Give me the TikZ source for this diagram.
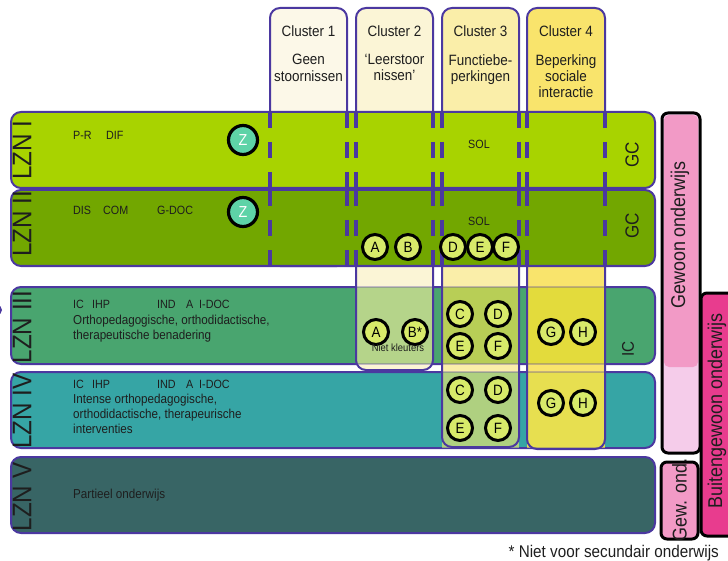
\documentclass[tikz,border=0pt]{standalone}
\usepackage{fontspec}
\setmainfont{Liberation Sans}[FakeStretch=0.9]
\usepackage{xcolor}
\usepackage{tikz}

\definecolor{rand}{HTML}{4B38A0}
\definecolor{lzna}{HTML}{A8D300}
\definecolor{lznb}{HTML}{72A700}
\definecolor{lznc}{HTML}{49A56F}
\definecolor{lznd}{HTML}{36A5A5}
\definecolor{lzne}{HTML}{386565}
\definecolor{cla}{HTML}{FCF8E8}
\definecolor{clb}{HTML}{FBF5D6}
\definecolor{clc}{HTML}{FAEEA9}
\definecolor{cld}{HTML}{F9E46C}
\definecolor{ovbc}{HTML}{B5D48A}
\definecolor{ovcc}{HTML}{B8CE56}
\definecolor{ovcd}{HTML}{AFD080}
\definecolor{ovdc}{HTML}{E3DB3C}
\definecolor{ovdd}{HTML}{E7DF50}
\definecolor{bol}{HTML}{D8EA6A}
\definecolor{zbol}{HTML}{5ED3A7}
\definecolor{roze}{HTML}{F29AC6}
\definecolor{lichtroze}{HTML}{F5CCEA}
\definecolor{magenta}{HTML}{E83C8E}
\definecolor{inkt}{HTML}{1E1E1E}

\tikzset{
	rij/.style={draw=rand, line width=2bp, rounded corners=10bp},
	kolom/.style={draw=rand, line width=2bp, rounded corners=10bp},
	streep/.style={rand, line width=3.5bp, dash pattern=on 16bp off 14bp},
	letter/.style={circle, draw=black, line width=3bp, fill=bol, minimum size=25bp, inner sep=0pt, font=\fontsize{15}{15}\selectfont},
	zletter/.style={circle, draw=black, line width=3.2bp, fill=zbol, text=white, minimum size=29bp, inner sep=0pt, font=\fontsize{16}{16}\selectfont},
	kop/.style={anchor=base, inner sep=0pt, text=inkt, font=\fontsize{15}{17}\selectfont},
	koptekst/.style={anchor=north, inner sep=0pt, align=center, text=inkt, font=\fontsize{15}{16.5}\selectfont},
	rijlabel/.style={rotate=90, inner sep=0pt, text=inkt, font=\fontsize{27}{27}\selectfont},
	code/.style={anchor=base west, inner sep=0pt, text=inkt, font=\fontsize{12}{12}\selectfont},
	uitleg/.style={anchor=north west, inner sep=0pt, align=left, text=inkt, font=\fontsize{13}{15.4}\selectfont},
	kader/.style={draw=black, line width=3bp, rounded corners=6bp},
	zijtekst/.style={rotate=90, inner sep=0pt, text=inkt, font=\fontsize{20}{20}\selectfont}
}

\begin{document}
\begin{tikzpicture}[x=1bp, y=-1bp]
	\useasboundingbox (0,0) rectangle (728,561);
	\draw[rij, fill=lznc] (11,287) rectangle (655,364);
	\draw[rij, fill=lznd] (11,372) rectangle (655,448);
	\draw[rij, fill=lzne] (11,457) rectangle (655,533);
	\foreach \xa/\xb/\yb/\kl in {270/347/266/cla, 356/433/370/clb, 442/519/447/clc, 527/605/449/cld}
		\fill[\kl, rounded corners=10bp] (\xa,8) rectangle (\xb,\yb);
	\fill[ovbc] (356,287) rectangle (433,364);
	\fill[ovcc] (442,287) rectangle (519,364);
	\fill[ovcd] (442,372) rectangle (519,448);
	\fill[ovdc] (527,287) rectangle (605,364);
	\fill[ovdd] (527,372) rectangle (605,448);
	\foreach \y in {287,364}
		\draw[rand, opacity=.3, line width=2bp] (356,\y) -- (433,\y);
	\foreach \y in {287,364,372,448}
		\draw[rand, opacity=.3, line width=2bp] (442,\y) -- (519,\y) (527,\y) -- (605,\y);
	\foreach \xa/\xb/\yb in {270/347/266, 356/433/370, 442/519/447, 527/605/449}
		\draw[kolom] (\xa,8) rectangle (\xb,\yb);
	\draw[rij, fill=lzna] (11,112) rectangle (655,188);
	\draw[rij, fill=lznb] (11,190) rectangle (655,266);
	\foreach \x in {270,347,356,433,442,519,527,605}
		\draw[streep] (\x,112) -- (\x,188) (\x,190) -- (\x,266);

	\node[kop] (kop1) at (308.5,37) {Cluster 1};
	\node[kop] (kop2) at (394.5,37) {Cluster 2};
	\node[kop] (kop3) at (480.5,37) {Cluster 3};
	\node[kop] (kop4) at (566,37) {Cluster 4};
	\node[koptekst] (tekst1) at (308.5,54) {Geen\\stoornissen};
	\node[koptekst] (tekst2) at (394.5,54) {‘Leerstoor\\nissen’};
	\node[koptekst] (tekst3) at (480.5,54) {Functiebe-\\perkingen};
	\node[koptekst] (tekst4) at (566,54) {Beperking\\sociale\\interactie};

	\node[rijlabel] (lzn1) at (22,150) {LZN I};
	\node[rijlabel] (lzn2) at (22,224) {LZN II};
	\node[rijlabel] (lzn3) at (22,327) {LZN III};
	\node[rijlabel] (lzn4) at (22,411) {LZN IV};
	\node[rijlabel] (lzn5) at (22,497) {LZN V};

	\node[code] (pr) at (73,140) {P-R};
	\node[code] (dif) at (106,140) {DIF};
	\node[code] (dis) at (73,215) {DIS};
	\node[code] (com) at (103,215) {COM};
	\node[code] (gdoc) at (157,215) {G-DOC};
	\foreach \r/\y in {3/308, 4/388} {
		\node[code] (ic\r) at (73,\y) {IC};
		\node[code] (ihp\r) at (92,\y) {IHP};
		\node[code] (ind\r) at (157,\y) {IND};
		\node[code] (a\r) at (186,\y) {A};
		\node[code] (idoc\r) at (199,\y) {I-DOC};
	}
	\node[uitleg] (oms3) at (73,314.5) {Orthopedagogische, orthodidactische,\\therapeutische benadering};
	\node[uitleg] (oms4) at (73,393.5) {Intense orthopedagogische,\\orthodidactische, therapeurische\\interventies};
	\node[code, font=\fontsize{13}{13}\selectfont] (partieel) at (73,498) {Partieel onderwijs};

	\node[code, anchor=base] (sol1) at (479,149) {SOL};
	\node[code, anchor=base] (sol2) at (479,226) {SOL};
	\node[rotate=90, inner sep=0pt, text=inkt, font=\fontsize{19}{19}\selectfont] (gc1) at (632,155) {GC};
	\node[rotate=90, inner sep=0pt, text=inkt, font=\fontsize{19}{19}\selectfont] (gc2) at (632,226) {GC};
	\node[rotate=90, inner sep=0pt, text=inkt, font=\fontsize{17}{17}\selectfont] (icb) at (628,349) {IC};

	\node[zletter] (z1) at (243,140) {Z};
	\node[zletter] (z2) at (243,212) {Z};
	\node[letter] (a2) at (375,247) {A};
	\node[letter] (b2) at (408,247) {B};
	\node[letter] (d2) at (453,247) {D};
	\node[letter] (e2) at (480,247) {E};
	\node[letter] (f2) at (506,247) {F};
	\node[letter] (a3) at (376,332) {A};
	\node[letter] (b3) at (415,332) {B*};
	\node[anchor=base, inner sep=0pt, text=inkt, font=\fontsize{10.5}{10.5}\selectfont] (kleuters) at (398,351) {Niet kleuters};
	\node[letter] (c3) at (460,314) {C};
	\node[letter] (d3) at (498,314) {D};
	\node[letter] (e3) at (460,346) {E};
	\node[letter] (f3) at (498,346) {F};
	\node[letter] (g3) at (551,332) {G};
	\node[letter] (h3) at (583,332) {H};
	\node[letter] (c4) at (460,390) {C};
	\node[letter] (d4) at (498,390) {D};
	\node[letter] (e4) at (460,428) {E};
	\node[letter] (f4) at (498,428) {F};
	\node[letter] (g4) at (551,403) {G};
	\node[letter] (h4) at (583,403) {H};

	\fill[lichtroze, rounded corners=6bp] (662,113) rectangle (700,453);
	\fill[roze, rounded corners=5bp] (664,115) rectangle (698,367);
	\draw[kader] (662,113) rectangle (700,453);
	\draw[kader, fill=roze] (661,462) rectangle (698,539);
	\begin{scope}
		\clip (0,0) rectangle (728,561);
		\draw[kader, fill=magenta] (701,293) rectangle (740,536);
		\fill[rand] (-3,310) circle (5bp);
	\end{scope}
	\node[zijtekst] (gewoon) at (680,235) {Gewoon onderwijs};
	\node[zijtekst] (gewond) at (679.5,500) {Gew. ond.};
	\node[zijtekst] (buiten) at (717,411) {Buitengewoon onderwijs};

	\node[anchor=base east, inner sep=0pt, text=inkt, font=\fontsize{17}{17}\selectfont] (voetnoot) at (719,557) {* Niet voor secundair onderwijs};
\end{tikzpicture}
\end{document}
